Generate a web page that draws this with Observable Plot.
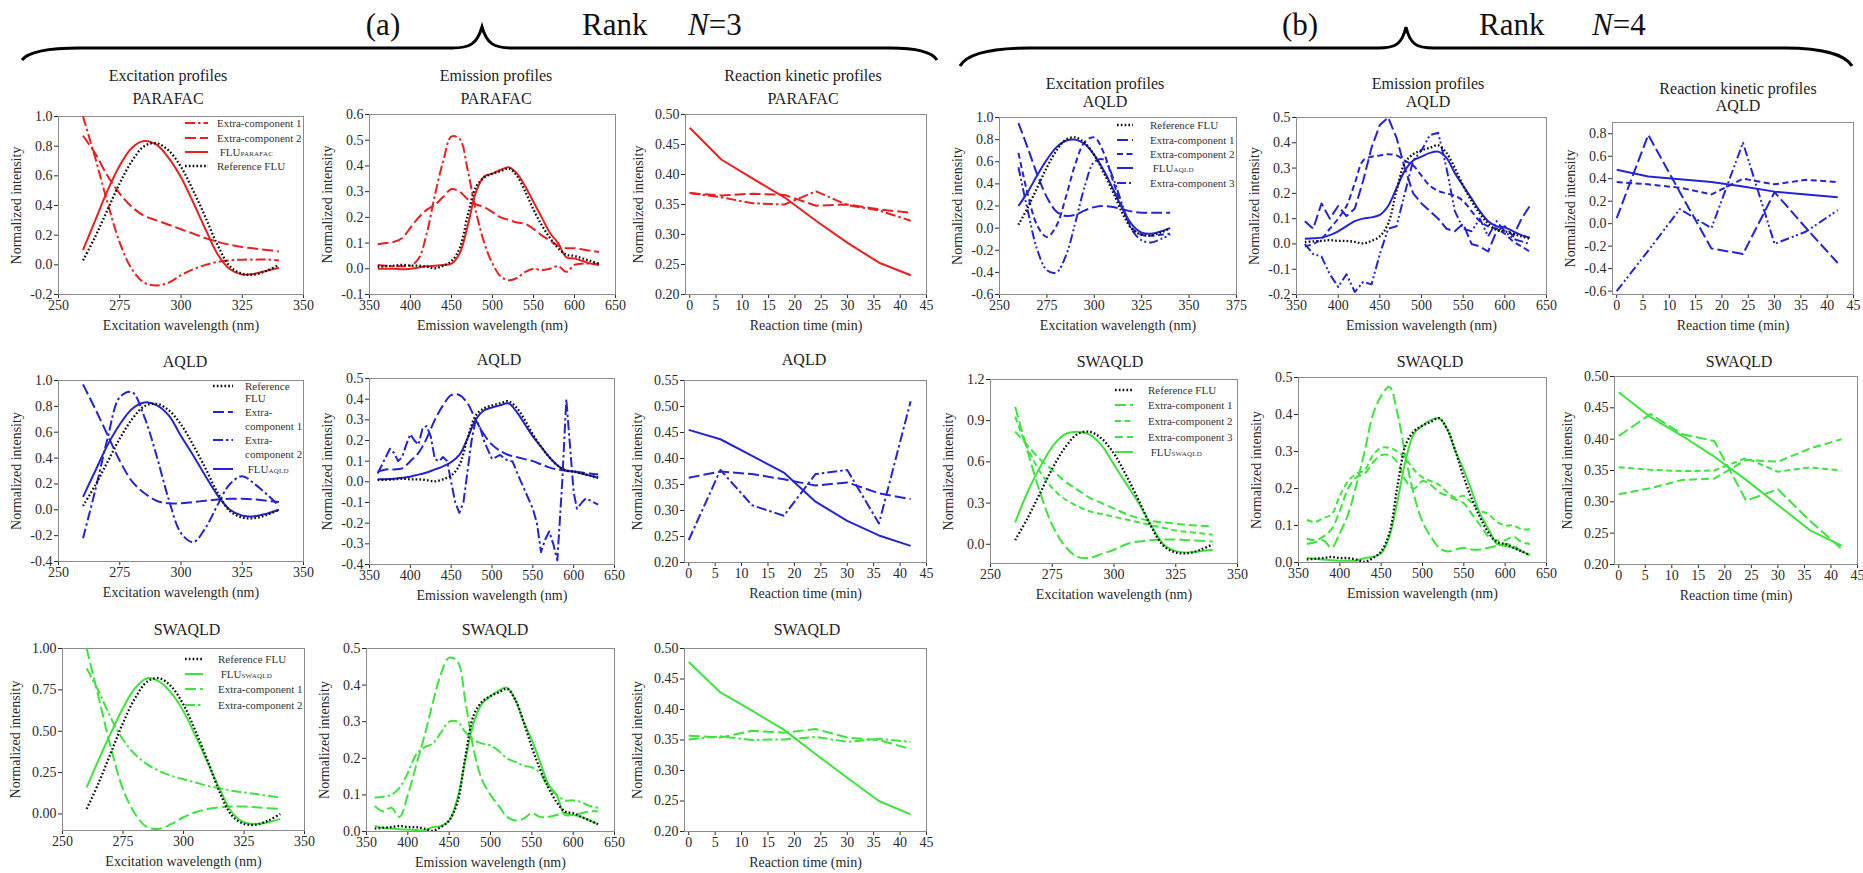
<!DOCTYPE html>
<html><head><meta charset="utf-8">
<script src="https://cdn.jsdelivr.net/npm/d3@7"></script>
<script src="https://cdn.jsdelivr.net/npm/@observablehq/plot@0.6"></script>
<style>
html,body{margin:0;padding:0;background:#fff;}
#page{position:relative;width:1863px;height:873px;overflow:hidden;font-family:"Liberation Serif","Times New Roman",serif;color:#222;}
.title{position:absolute;white-space:nowrap;transform:translate(-50%,-50%);font-size:16px;line-height:1;color:#222;}
.lg{position:absolute;white-space:nowrap;font-size:11px;line-height:1;transform:translateY(-50%);color:#333;}
.sc{font-size:7px;letter-spacing:0.2px;}
</style></head><body><div id="page"></div>
<script>
// ---------- axes grids & ticks ----------
const exWl = [260,265,270,275,280,285,290,295,300,305,310,315,320,325,330,335,340];
const emWl = [360,370,380,390,400,410,420,430,440,450,460,470,480,490,500,510,520,530,540,550,560,570,580,590,600,610,620,630];
const timeMin = [0,6,12,18,24,30,36,42];
const exTicks = [250,275,300,325,350];
const exTicksWide = [250,275,300,325,350,375];
const emTicks = [350,400,450,500,550,600,650];
const timeTicks = [0,5,10,15,20,25,30,35,40,45];

// ---------- reference FLU (same in every panel) ----------
const refEx = [0.03,0.19,0.37,0.55,0.70,0.80,0.82,0.77,0.66,0.50,0.32,0.13,-0.01,-0.06,-0.065,-0.04,0.0];
const refEm = [0.008,0.010,0.012,0.015,0.012,0.012,0.008,0.002,0.012,0.03,0.08,0.21,0.32,0.355,0.37,0.38,0.39,0.36,0.30,0.23,0.17,0.12,0.08,0.055,0.05,0.04,0.03,0.02];

// ---------- (a) N=3 PARAFAC ----------
const parafacExFlu = [0.10,0.30,0.50,0.67,0.79,0.835,0.81,0.72,0.59,0.42,0.24,0.07,-0.03,-0.065,-0.06,-0.04,-0.02];
const parafacExC1 = [1.0,0.72,0.42,0.15,-0.03,-0.12,-0.14,-0.12,-0.07,-0.03,0.0,0.02,0.03,0.035,0.035,0.035,0.03];
const parafacExC2 = [0.87,0.75,0.60,0.48,0.39,0.33,0.30,0.27,0.24,0.21,0.18,0.155,0.135,0.12,0.11,0.10,0.09];
const parafacEmFlu = [0.0,0.0,0.0,-0.002,0.0,0.005,0.01,0.012,0.015,0.02,0.06,0.17,0.30,0.36,0.37,0.385,0.395,0.37,0.32,0.26,0.20,0.14,0.10,0.045,0.04,0.03,0.02,0.015];
const parafacEmC1 = [0.015,0.012,0.01,0.01,0.012,0.04,0.14,0.29,0.42,0.515,0.505,0.38,0.22,0.10,0.02,-0.03,-0.045,-0.035,-0.012,0.0,-0.005,0.0,0.01,-0.012,0.015,0.02,0.02,0.018];
const parafacEmC2 = [0.095,0.10,0.105,0.12,0.16,0.20,0.23,0.25,0.28,0.31,0.30,0.27,0.25,0.24,0.22,0.20,0.19,0.18,0.175,0.155,0.13,0.11,0.09,0.08,0.08,0.075,0.07,0.065];
const parafacKinFlu = [0.478,0.425,0.393,0.362,0.323,0.286,0.253,0.232];
const parafacKinC1 = [0.369,0.362,0.352,0.350,0.372,0.349,0.340,0.323];
const parafacKinC2 = [0.369,0.365,0.368,0.366,0.348,0.350,0.342,0.336];

// ---------- (a) N=3 AQLD ----------
const aqld3ExFlu = [0.10,0.30,0.50,0.66,0.78,0.83,0.81,0.73,0.57,0.42,0.26,0.11,0.0,-0.045,-0.05,-0.03,0.0];
const aqld3ExC1 = [0.97,0.78,0.58,0.38,0.22,0.13,0.07,0.05,0.05,0.06,0.07,0.08,0.085,0.085,0.08,0.07,0.06];
const aqld3ExC2 = [-0.22,0.15,0.55,0.87,0.91,0.72,0.42,0.08,-0.18,-0.25,-0.14,0.04,0.20,0.26,0.20,0.12,0.03];
const aqld3EmFlu = [0.012,0.013,0.015,0.02,0.025,0.035,0.045,0.06,0.075,0.095,0.13,0.21,0.30,0.345,0.36,0.37,0.38,0.34,0.28,0.22,0.17,0.12,0.08,0.055,0.05,0.04,0.03,0.02];
const aqld3EmC1 = [0.05,0.06,0.06,0.065,0.10,0.14,0.21,0.30,0.37,0.42,0.42,0.38,0.30,0.23,0.18,0.15,0.13,0.12,0.11,0.10,0.085,0.07,0.06,0.055,0.05,0.045,0.04,0.035];
const aqld3EmC2Wl = [360,365,370,375,380,385,390,395,400,405,410,415,420,425,430,435,440,445,450,455,460,465,470,475,480,485,490,500,510,520,525,530,540,550,555,560,565,570,575,580,586,591,596,600,604,610,615,620,630];
const aqld3EmC2 = [0.04,0.08,0.12,0.16,0.14,0.10,0.12,0.18,0.23,0.20,0.18,0.26,0.27,0.22,0.11,0.10,0.12,0.10,0.0,-0.10,-0.15,-0.10,0.05,0.20,0.30,0.27,0.20,0.11,0.13,0.10,0.10,0.05,-0.04,-0.13,-0.20,-0.34,-0.28,-0.24,-0.30,-0.38,0.0,0.40,0.15,-0.05,-0.13,-0.10,-0.08,-0.09,-0.11];
const aqld3KinFlu = [0.455,0.437,0.405,0.373,0.317,0.280,0.252,0.232];
const aqld3KinC1 = [0.363,0.375,0.370,0.360,0.348,0.354,0.333,0.322];
const aqld3KinC2 = [0.243,0.378,0.310,0.290,0.370,0.378,0.275,0.510];

// ---------- (a) N=3 SWAQLD ----------
const swaqld3ExFlu = [0.16,0.33,0.49,0.64,0.76,0.82,0.80,0.73,0.62,0.47,0.31,0.15,0.01,-0.05,-0.06,-0.05,-0.03];
const swaqld3ExC1 = [1.0,0.70,0.40,0.15,0.0,-0.08,-0.09,-0.06,-0.02,0.01,0.03,0.04,0.045,0.045,0.04,0.035,0.03];
const swaqld3ExC2 = [0.88,0.74,0.58,0.45,0.36,0.30,0.26,0.23,0.21,0.19,0.17,0.155,0.14,0.13,0.12,0.11,0.10];
const swaqld3EmFlu = [0.015,0.01,0.008,0.006,0.005,0.004,0.003,0.012,0.015,0.03,0.09,0.20,0.30,0.35,0.37,0.385,0.393,0.36,0.30,0.25,0.19,0.13,0.10,0.045,0.045,0.04,0.03,0.02];
const swaqld3EmC1 = [0.07,0.055,0.065,0.04,0.10,0.18,0.26,0.35,0.43,0.475,0.465,0.35,0.22,0.14,0.10,0.07,0.04,0.03,0.035,0.05,0.04,0.04,0.045,0.05,0.045,0.05,0.055,0.055];
const swaqld3EmC2 = [0.093,0.095,0.10,0.12,0.16,0.21,0.23,0.24,0.27,0.30,0.30,0.27,0.25,0.24,0.235,0.22,0.20,0.19,0.18,0.175,0.16,0.12,0.10,0.085,0.085,0.08,0.07,0.065];
const swaqld3KinFlu = [0.478,0.428,0.398,0.367,0.327,0.288,0.250,0.228];
const swaqld3KinC1 = [0.357,0.354,0.365,0.362,0.368,0.354,0.350,0.335];
const swaqld3KinC2 = [0.351,0.356,0.350,0.351,0.355,0.347,0.352,0.347];

// ---------- (b) N=4 AQLD ----------
const aqld4ExFlu = [0.20,0.33,0.48,0.62,0.73,0.79,0.80,0.76,0.66,0.52,0.35,0.17,0.03,-0.04,-0.05,-0.03,0.0];
const aqld4ExC1 = [0.95,0.72,0.48,0.28,0.15,0.11,0.12,0.16,0.19,0.20,0.19,0.17,0.15,0.14,0.14,0.14,0.14];
const aqld4ExC2 = [0.68,0.30,0.02,-0.08,0.02,0.28,0.58,0.78,0.82,0.68,0.42,0.18,0.0,-0.06,-0.07,-0.06,-0.05];
const aqld4ExC3 = [0.55,0.15,-0.20,-0.38,-0.40,-0.25,0.05,0.38,0.60,0.62,0.45,0.20,-0.02,-0.11,-0.13,-0.10,-0.06];
const aqld4EmFlu = [0.02,0.022,0.025,0.035,0.05,0.07,0.09,0.10,0.105,0.115,0.15,0.22,0.29,0.33,0.345,0.36,0.365,0.34,0.28,0.23,0.18,0.13,0.09,0.07,0.065,0.05,0.035,0.025];
const aqld4EmC1 = [0.09,0.06,0.16,0.10,0.15,0.11,0.14,0.25,0.38,0.47,0.50,0.42,0.30,0.20,0.16,0.13,0.10,0.06,0.05,0.08,0.0,-0.01,-0.03,0.05,0.07,0.03,0.10,0.15];
const aqld4EmC2 = [-0.01,0.0,0.02,0.06,0.10,0.15,0.24,0.33,0.345,0.35,0.355,0.35,0.33,0.31,0.27,0.23,0.21,0.20,0.19,0.17,0.13,0.09,0.07,0.06,0.04,0.01,-0.01,-0.03];
const aqld4EmC3 = [0.0,-0.04,-0.05,-0.12,-0.17,-0.12,-0.19,-0.15,-0.16,-0.04,0.06,0.07,0.20,0.33,0.37,0.43,0.44,0.30,0.13,0.06,0.05,0.10,0.03,0.09,0.05,0.02,0.01,0.0];
const aqld4KinFlu = [0.48,0.42,0.395,0.37,0.33,0.285,0.26,0.235];
const aqld4KinC1 = [0.05,0.79,0.28,-0.22,-0.27,0.28,-0.04,-0.35];
const aqld4KinC2 = [0.37,0.35,0.32,0.26,0.40,0.35,0.39,0.37];
const aqld4KinC3 = [-0.60,-0.24,0.13,-0.04,0.72,-0.18,-0.07,0.12];

// ---------- (b) N=4 SWAQLD ----------
const swaqld4ExFlu = [0.16,0.38,0.56,0.71,0.80,0.82,0.80,0.72,0.58,0.44,0.30,0.14,0.0,-0.05,-0.06,-0.05,-0.04];
const swaqld4ExC1 = [1.0,0.68,0.38,0.14,-0.01,-0.09,-0.10,-0.07,-0.04,0.0,0.02,0.03,0.035,0.035,0.03,0.025,0.02];
const swaqld4ExC2 = [0.93,0.70,0.53,0.41,0.33,0.28,0.24,0.22,0.20,0.18,0.16,0.14,0.12,0.10,0.09,0.08,0.07];
const swaqld4ExC3 = [0.82,0.72,0.62,0.54,0.46,0.40,0.34,0.30,0.26,0.22,0.19,0.17,0.16,0.15,0.14,0.135,0.13];
const swaqld4EmFlu = [0.012,0.01,0.008,0.006,0.005,0.005,0.005,0.012,0.015,0.025,0.07,0.17,0.28,0.35,0.37,0.385,0.39,0.36,0.30,0.25,0.19,0.13,0.09,0.05,0.045,0.04,0.03,0.02];
const swaqld4EmC1 = [0.05,0.055,0.06,0.04,0.08,0.13,0.21,0.30,0.40,0.45,0.475,0.40,0.28,0.18,0.11,0.07,0.04,0.03,0.035,0.04,0.035,0.035,0.04,0.045,0.05,0.045,0.03,0.02];
const swaqld4EmC2 = [0.115,0.11,0.12,0.13,0.18,0.22,0.24,0.25,0.29,0.31,0.31,0.30,0.28,0.25,0.23,0.22,0.21,0.19,0.175,0.18,0.16,0.14,0.13,0.11,0.10,0.10,0.09,0.09];
const swaqld4EmC3 = [0.065,0.06,0.07,0.09,0.14,0.20,0.23,0.24,0.27,0.29,0.29,0.27,0.22,0.20,0.22,0.21,0.19,0.18,0.17,0.16,0.13,0.10,0.07,0.06,0.06,0.07,0.055,0.05];
const swaqld4KinFlu = [0.475,0.435,0.405,0.372,0.335,0.295,0.255,0.23];
const swaqld4KinC1 = [0.405,0.44,0.408,0.397,0.302,0.320,0.270,0.225];
const swaqld4KinC2 = [0.355,0.351,0.349,0.350,0.370,0.348,0.355,0.350];
const swaqld4KinC3 = [0.312,0.322,0.335,0.337,0.367,0.364,0.385,0.400];

// ---------- styles ----------
const FONT = '"Liberation Serif","Times New Roman",serif';
const RED = "#ea1f1f", BLUE = "#2424d2", GREEN = "#3ce43c", REF = "#111111";
const STYLE = {
  solid: {dash: undefined, w: 2},
  dot: {dash: "1.7,2.1", w: 2.3},
  long: {dash: "11,4", w: 2},
  long2: {dash: "8,4", w: 2},
  med: {dash: "6,3.5", w: 2},
  dashdot: {dash: "10,3,2.5,3", w: 2},
  dashdot2: {dash: "9,3,2,2.5,2,3", w: 2}
};
const page = document.getElementById("page");

const EX = {xs: exWl, xDomain: [250, 350], xTicks: exTicks, xLabel: "Excitation wavelength (nm)", curve: "catmull-rom"};
const EM = {xs: emWl, xDomain: [350, 650], xTicks: emTicks, xLabel: "Emission wavelength (nm)", curve: "catmull-rom"};
const KIN = {xs: timeMin, xDomain: [-0.8, 45], xTicks: timeTicks, xLabel: "Reaction time (min)", curve: "linear"};

const panels = [
  // row 1 (a)
  {...EX, box: [58, 303, 116, 294], color: RED, yDomain: [-0.2, 1.0], yTicks: [-0.2,0,0.2,0.4,0.6,0.8,1.0], yDec: 1,
   series: [{y: parafacExC1, s: "dashdot"}, {y: parafacExC2, s: "long"}, {y: parafacExFlu, s: "solid"}, {y: refEx, s: "dot"}]},
  {...EM, box: [369, 615, 114, 294], color: RED, yDomain: [-0.1, 0.6], yTicks: [-0.1,0,0.1,0.2,0.3,0.4,0.5,0.6], yDec: 1,
   series: [{y: parafacEmC1, s: "dashdot"}, {y: parafacEmC2, s: "long"}, {y: parafacEmFlu, s: "solid"}, {y: refEm, s: "dot"}]},
  {...KIN, box: [685, 926, 114, 294], color: RED, yDomain: [0.2, 0.5], yTicks: [0.2,0.25,0.3,0.35,0.4,0.45,0.5], yDec: 2, yOff: 52,
   series: [{y: parafacKinC1, s: "dashdot"}, {y: parafacKinC2, s: "long"}, {y: parafacKinFlu, s: "solid"}]},
  // row 1 (b)
  {...EX, xDomain: [250, 375], xTicks: exTicksWide, box: [999, 1236, 117, 294], color: BLUE, yDomain: [-0.6, 1.0], yTicks: [-0.6,-0.4,-0.2,0,0.2,0.4,0.6,0.8,1.0], yDec: 1,
   series: [{y: aqld4ExC1, s: "long"}, {y: aqld4ExC2, s: "med"}, {y: aqld4ExC3, s: "dashdot2"}, {y: aqld4ExFlu, s: "solid"}, {y: refEx, s: "dot"}]},
  {...EM, box: [1296, 1546, 117, 294], color: BLUE, yDomain: [-0.2, 0.5], yTicks: [-0.2,-0.1,0,0.1,0.2,0.3,0.4,0.5], yDec: 1,
   series: [{y: aqld4EmC1, s: "long", c: "linear"}, {y: aqld4EmC2, s: "med"}, {y: aqld4EmC3, s: "dashdot2", c: "linear"}, {y: aqld4EmFlu, s: "solid"}, {y: refEm, s: "dot"}]},
  {...KIN, box: [1612, 1853, 122, 294], color: BLUE, yDomain: [-0.63, 0.9], yTicks: [-0.6,-0.4,-0.2,0,0.2,0.4,0.6,0.8], yDec: 1,
   series: [{y: aqld4KinC1, s: "long"}, {y: aqld4KinC2, s: "med"}, {y: aqld4KinC3, s: "dashdot2"}, {y: aqld4KinFlu, s: "solid"}]},
  // row 2 (a)
  {...EX, box: [58, 303, 380, 561], color: BLUE, yDomain: [-0.4, 1.0], yTicks: [-0.4,-0.2,0,0.2,0.4,0.6,0.8,1.0], yDec: 1,
   series: [{y: aqld3ExC1, s: "long"}, {y: aqld3ExC2, s: "dashdot"}, {y: aqld3ExFlu, s: "solid"}, {y: refEx, s: "dot"}]},
  {...EM, box: [369, 614, 378, 564], color: BLUE, yDomain: [-0.4, 0.5], yTicks: [-0.4,-0.3,-0.2,-0.1,0,0.1,0.2,0.3,0.4,0.5], yDec: 1,
   series: [{y: aqld3EmC1, s: "long"}, {x: aqld3EmC2Wl, y: aqld3EmC2, s: "dashdot", c: "linear"}, {y: aqld3EmFlu, s: "solid"}, {y: refEm, s: "dot"}]},
  {...KIN, box: [684, 926, 380, 562], color: BLUE, yDomain: [0.2, 0.55], yTicks: [0.2,0.25,0.3,0.35,0.4,0.45,0.5,0.55], yDec: 2, yOff: 52,
   series: [{y: aqld3KinC1, s: "long"}, {y: aqld3KinC2, s: "dashdot"}, {y: aqld3KinFlu, s: "solid"}]},
  // row 2 (b)
  {...EX, box: [990, 1237, 379, 563], color: GREEN, yDomain: [-0.14, 1.2], yTicks: [0,0.3,0.6,0.9,1.2], yDec: 1,
   series: [{y: swaqld4ExC1, s: "long"}, {y: swaqld4ExC2, s: "med"}, {y: swaqld4ExC3, s: "long2"}, {y: swaqld4ExFlu, s: "solid"}, {y: refEx, s: "dot"}]},
  {...EM, box: [1298, 1546, 377, 562], color: GREEN, yDomain: [0, 0.5], yTicks: [0,0.1,0.2,0.3,0.4,0.5], yDec: 1,
   series: [{y: swaqld4EmC1, s: "long"}, {y: swaqld4EmC2, s: "med"}, {y: swaqld4EmC3, s: "long2"}, {y: swaqld4EmFlu, s: "solid"}, {y: refEm, s: "dot"}]},
  {...KIN, box: [1614, 1857, 376, 564], color: GREEN, yDomain: [0.2, 0.5], yTicks: [0.2,0.25,0.3,0.35,0.4,0.45,0.5], yDec: 2, yOff: 52,
   series: [{y: swaqld4KinC1, s: "long"}, {y: swaqld4KinC2, s: "med"}, {y: swaqld4KinC3, s: "long2"}, {y: swaqld4KinFlu, s: "solid"}]},
  // row 3 (a)
  {...EX, box: [62, 304, 648, 830], color: GREEN, yDomain: [-0.1, 1.0], yTicks: [0,0.25,0.5,0.75,1.0], yDec: 2, yOff: 52,
   series: [{y: swaqld3ExC1, s: "long"}, {y: swaqld3ExC2, s: "dashdot"}, {y: swaqld3ExFlu, s: "solid"}, {y: refEx, s: "dot"}]},
  {...EM, box: [366, 614, 648, 831], color: GREEN, yDomain: [0, 0.5], yTicks: [0,0.1,0.2,0.3,0.4,0.5], yDec: 1,
   series: [{y: swaqld3EmC1, s: "long"}, {y: swaqld3EmC2, s: "dashdot"}, {y: swaqld3EmFlu, s: "solid"}, {y: refEm, s: "dot"}]},
  {...KIN, box: [684, 926, 648, 831], color: GREEN, yDomain: [0.2, 0.5], yTicks: [0.2,0.25,0.3,0.35,0.4,0.45,0.5], yDec: 2, yOff: 52,
   series: [{y: swaqld3KinC1, s: "long"}, {y: swaqld3KinC2, s: "dashdot"}, {y: swaqld3KinFlu, s: "solid"}]}
];

function drawPanel(p) {
  const ml = 64, mr = 6, mt = 6, mb = 46;
  const [x0, x1, y0, y1] = p.box;
  const marks = [Plot.frame({stroke: "#8c8c8c", strokeWidth: 1})];
  for (const s of p.series) {
    const xs = s.x || p.xs;
    const pts = xs.map((x, i) => ({x, y: s.y[i]}));
    const st = STYLE[s.s];
    marks.push(Plot.line(pts, {x: "x", y: "y",
      stroke: s.s === "dot" ? REF : p.color, strokeWidth: st.w, strokeDasharray: st.dash,
      strokeLinecap: "butt", curve: s.c || p.curve, clip: true}));
  }
  const chart = Plot.plot({
    width: x1 - x0 + ml + mr, height: y1 - y0 + mt + mb,
    marginLeft: ml, marginRight: mr, marginTop: mt, marginBottom: mb,
    style: {fontFamily: FONT, fontSize: "14px", color: "#2a2a2a", background: "transparent", overflow: "visible"},
    x: {domain: p.xDomain, ticks: p.xTicks, tickFormat: d => String(d), tickSize: 4, tickPadding: 2,
        label: p.xLabel, labelAnchor: "center", labelArrow: "none", labelOffset: p.xOff || 35},
    y: {domain: p.yDomain, ticks: p.yTicks, tickFormat: d => d.toFixed(p.yDec), tickSize: 4, tickPadding: 2,
        label: "Normalized intensity", labelAnchor: "center", labelArrow: "none", labelOffset: p.yOff || 47},
    marks
  });
  chart.style.position = "absolute";
  chart.style.left = (x0 - ml) + "px";
  chart.style.top = (y0 - mt) + "px";
  page.appendChild(chart);
}
panels.forEach(drawPanel);

// ---------- titles ----------
const titles = [
  ["Excitation profiles", 168, 76], ["PARAFAC", 168, 99],
  ["Emission profiles", 496, 76], ["PARAFAC", 496, 99],
  ["Reaction kinetic profiles", 803, 76], ["PARAFAC", 803, 99],
  ["Excitation profiles", 1105, 84], ["AQLD", 1105, 102],
  ["Emission profiles", 1428, 84], ["AQLD", 1428, 102],
  ["Reaction kinetic profiles", 1738, 89], ["AQLD", 1738, 106],
  ["AQLD", 185, 362], ["AQLD", 499, 360], ["AQLD", 804, 360],
  ["SWAQLD", 1110, 362], ["SWAQLD", 1430, 362], ["SWAQLD", 1739, 362],
  ["SWAQLD", 187, 630], ["SWAQLD", 495, 630], ["SWAQLD", 807, 630]
];
for (const [t, x, y] of titles) {
  const d = document.createElement("div");
  d.className = "title"; d.textContent = t;
  d.style.left = x + "px"; d.style.top = y + "px";
  page.appendChild(d);
}

// ---------- legends ----------
const legends = [
  {color: RED, sx: 185, sw: 23, tx: 217, rows: [
    [123, "dashdot", "Extra-component 1"], [137.5, "long", "Extra-component 2"],
    [152, "solid", "&nbsp;FLU<span class='sc'>PARAFAC</span>"], [166, "dot", "Reference FLU"]]},
  {color: BLUE, sx: 1117, sw: 16, tx: 1150, rows: [
    [125, "dot", "Reference FLU"], [140, "long", "Extra-component 1"], [154, "med", "Extra-component 2"],
    [168, "solid", "&nbsp;FLU<span class='sc'>AQLD</span>"], [183, "dashdot2", "Extra-component 3"]]},
  {color: BLUE, sx: 213, sw: 20, tx: 245, rows: [
    [386, "dot", "Reference"], [398, null, "FLU"], [412, "long", "Extra-"], [426, null, "component 1"],
    [440, "dashdot", "Extra-"], [454, null, "component 2"], [469, "solid", "&nbsp;FLU<span class='sc'>AQLD</span>"]]},
  {color: GREEN, sx: 1115, sw: 18, tx: 1148, rows: [
    [390, "dot", "Reference FLU"], [405, "long", "Extra-component 1"], [421, "med", "Extra-component 2"],
    [437, "long2", "Extra-component 3"], [452, "solid", "&nbsp;FLU<span class='sc'>SWAQLD</span>"]]},
  {color: GREEN, sx: 185, sw: 18, tx: 218, rows: [
    [659, "dot", "Reference FLU"], [674, "solid", "&nbsp;FLU<span class='sc'>SWAQLD</span>"],
    [689, "long", "Extra-component 1"], [705, "dashdot", "Extra-component 2"]]}
];
for (const lg of legends) {
  for (const [y, s, html] of lg.rows) {
    if (s) {
      const st = STYLE[s];
      const svg = d3.create("svg").attr("width", lg.sw).attr("height", 8)
        .style("position", "absolute").style("left", lg.sx + "px").style("top", (y - 4) + "px");
      svg.append("line").attr("x1", 0).attr("x2", lg.sw).attr("y1", 4).attr("y2", 4)
        .attr("stroke", s === "dot" ? REF : lg.color).attr("stroke-width", st.w)
        .attr("stroke-dasharray", st.dash || null);
      page.appendChild(svg.node());
    }
    const d = document.createElement("div");
    d.className = "lg"; d.innerHTML = html;
    d.style.left = lg.tx + "px"; d.style.top = y + "px";
    page.appendChild(d);
  }
}

// ---------- header with braces ----------
const hdr = d3.create("svg").attr("width", 1863).attr("height", 80)
  .style("position", "absolute").style("left", "0px").style("top", "0px");
const braceA = "M22,60 C28,52 46,48 80,48 L452,48 C470,48 477,44 482,27 C487,44 494,48 512,48 L890,48 C918,48 932,52 937,60";
const braceB = "M960,66 C966,55 985,48 1030,48 L1378,48 C1396,48 1402,44 1406,27 C1410,44 1416,48 1434,48 L1785,48 C1826,48 1846,56 1852,66";
for (const d of [braceA, braceB]) hdr.append("path").attr("d", d).attr("fill", "none").attr("stroke", "#000").attr("stroke-width", 3);
const heads = [["(a)", 383, "middle"], ["Rank", 582, "start"], ["(b)", 1300, "middle"], ["Rank", 1479, "start"]];
for (const [t, x, a] of heads) hdr.append("text").attr("x", x).attr("y", 35).attr("text-anchor", a)
  .attr("font-family", FONT).attr("font-size", 31).attr("fill", "#111").text(t);
for (const [n, x] of [["3", 688], ["4", 1592]]) {
  const t = hdr.append("text").attr("x", x).attr("y", 35).attr("font-family", FONT).attr("font-size", 31).attr("fill", "#111");
  t.append("tspan").attr("font-style", "italic").text("N");
  t.append("tspan").text("=" + n);
}
page.appendChild(hdr.node());
</script></body></html>
